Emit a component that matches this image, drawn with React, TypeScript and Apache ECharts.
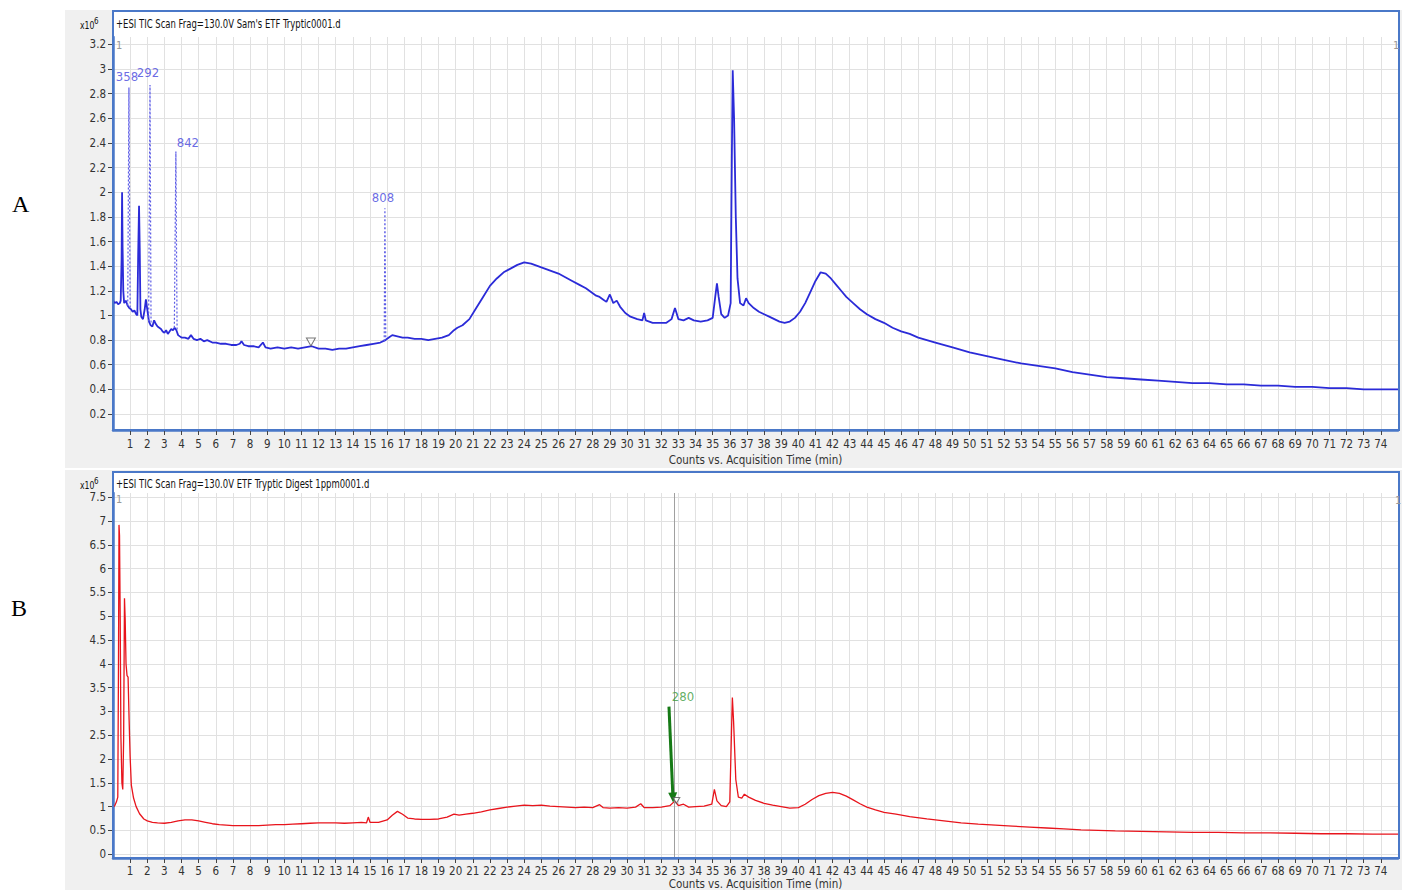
import React, { useEffect, useRef } from "react";
import * as echarts from "echarts";

const FONT = "'Liberation Sans Narrow', 'Arial Narrow', 'DejaVu Sans Condensed', 'Liberation Sans', sans-serif";
const SERIF = "'Liberation Serif', 'Times New Roman', serif";

// ---------- Panel A ----------
const titleA = "+ESI TIC Scan Frag=130.0V Sam's ETF Tryptic0001.d";
const yTicksA = [0.2, 0.4, 0.6, 0.8, 1, 1.2, 1.4, 1.6, 1.8, 2, 2.2, 2.4, 2.6, 2.8, 3, 3.2];
const ticA: [number, number][] = [
  [0.0, 1.12], [0.1, 1.1], [0.2, 1.11], [0.3, 1.09], [0.4, 1.1], [0.45, 1.12], [0.5, 1.45], [0.53, 2.0],
  [0.56, 1.55], [0.6, 1.2], [0.65, 1.1], [0.75, 1.12], [0.85, 1.08], [0.95, 1.06], [1.05, 1.05],
  [1.15, 1.03], [1.25, 1.04], [1.35, 1.01], [1.42, 1.0], [1.47, 1.5], [1.52, 1.89], [1.56, 1.55],
  [1.6, 1.05], [1.65, 0.99], [1.75, 0.97], [1.85, 1.05], [1.92, 1.13], [2.0, 1.05], [2.1, 0.95],
  [2.2, 0.92], [2.3, 0.91], [2.4, 0.96], [2.5, 0.93], [2.6, 0.91], [2.7, 0.9], [2.8, 0.89], [2.9, 0.87],
  [3.0, 0.86], [3.1, 0.88], [3.2, 0.85], [3.3, 0.87], [3.4, 0.89], [3.5, 0.88], [3.6, 0.9], [3.7, 0.88],
  [3.8, 0.84], [3.9, 0.83], [4.0, 0.82], [4.2, 0.82], [4.4, 0.81], [4.55, 0.84], [4.7, 0.81], [4.9, 0.8],
  [5.1, 0.81], [5.3, 0.79], [5.5, 0.8], [5.8, 0.78], [6.0, 0.78], [6.3, 0.77], [6.6, 0.77], [6.9, 0.76],
  [7.2, 0.76], [7.4, 0.77], [7.5, 0.79], [7.65, 0.76], [7.9, 0.75], [8.2, 0.75], [8.5, 0.74], [8.75, 0.78],
  [8.9, 0.74], [9.2, 0.73], [9.6, 0.74], [10.0, 0.73], [10.4, 0.74], [10.8, 0.73], [11.2, 0.74],
  [11.6, 0.75], [12.0, 0.73], [12.4, 0.73], [12.8, 0.72], [13.2, 0.73], [13.6, 0.73], [14.0, 0.74],
  [14.4, 0.75], [14.8, 0.76], [15.2, 0.77], [15.6, 0.78], [15.9, 0.8], [16.1, 0.82], [16.3, 0.84],
  [16.6, 0.83], [16.9, 0.82], [17.2, 0.82], [17.6, 0.81], [18.0, 0.81], [18.4, 0.8], [18.8, 0.81],
  [19.2, 0.82], [19.6, 0.84], [19.9, 0.88], [20.1, 0.9], [20.4, 0.92], [20.8, 0.97], [21.2, 1.06],
  [21.6, 1.15], [22.0, 1.24], [22.4, 1.3], [22.8, 1.35], [23.2, 1.38], [23.6, 1.41], [24.0, 1.43],
  [24.4, 1.42], [24.8, 1.4], [25.2, 1.38], [25.6, 1.36], [26.0, 1.34], [26.4, 1.31], [26.8, 1.28],
  [27.2, 1.25], [27.6, 1.22], [28.0, 1.18], [28.2, 1.16], [28.4, 1.15], [28.6, 1.13], [28.8, 1.11],
  [29.0, 1.17], [29.2, 1.1], [29.4, 1.12], [29.6, 1.07], [29.9, 1.02], [30.2, 0.99], [30.6, 0.97],
  [30.9, 0.96], [31.0, 1.02], [31.1, 0.96], [31.5, 0.94], [31.9, 0.94], [32.3, 0.94], [32.6, 0.97],
  [32.8, 1.06], [33.0, 0.97], [33.3, 0.96], [33.6, 0.98], [33.9, 0.96], [34.3, 0.95], [34.7, 0.96],
  [35.0, 0.98], [35.15, 1.15], [35.25, 1.26], [35.35, 1.15], [35.5, 1.01], [35.7, 0.98], [35.9, 1.0],
  [36.05, 1.1], [36.12, 2.3], [36.17, 2.99], [36.25, 2.6], [36.35, 1.8], [36.45, 1.3], [36.6, 1.1],
  [36.8, 1.08], [36.95, 1.14], [37.1, 1.1], [37.4, 1.06], [37.7, 1.03], [38.0, 1.01], [38.3, 0.99],
  [38.6, 0.97], [38.9, 0.95], [39.2, 0.94], [39.5, 0.95], [39.8, 0.98], [40.1, 1.03], [40.4, 1.1],
  [40.7, 1.19], [41.0, 1.28], [41.3, 1.35], [41.6, 1.34], [41.9, 1.3], [42.2, 1.25], [42.5, 1.2],
  [42.8, 1.15], [43.2, 1.1], [43.6, 1.05], [44.0, 1.01], [44.5, 0.97], [45.0, 0.94], [45.5, 0.9],
  [46.0, 0.87], [46.5, 0.85], [47.0, 0.82], [47.5, 0.8], [48.0, 0.78], [49.0, 0.74], [50.0, 0.7],
  [51.0, 0.67], [52.0, 0.64], [53.0, 0.61], [54.0, 0.59], [55.0, 0.57], [56.0, 0.54], [57.0, 0.52],
  [58.0, 0.5], [59.0, 0.49], [60.0, 0.48], [61.0, 0.47], [62.0, 0.46], [63.0, 0.45], [64.0, 0.45],
  [65.0, 0.44], [66.0, 0.44], [67.0, 0.43], [68.0, 0.43], [69.0, 0.42], [70.0, 0.42], [71.0, 0.41],
  [72.0, 0.41], [73.0, 0.4], [74.0, 0.4], [75.0, 0.4],
];
const peakNamesA = ["358", "292", "842", "808"];
const peakPointsA: [number, number][][] = [
  [[0.86, 1.08], [0.93, 2.85], [1.0, 1.06]],
  [[2.08, 0.95], [2.16, 2.87], [2.22, 0.93]],
  [[3.58, 0.9], [3.67, 2.33], [3.74, 0.88]],
  [[15.83, 0.79], [15.87, 1.87], [15.92, 0.8]],
];
const markerA: [number, number] = [11.55, 0.785];

// ---------- Panel B ----------
const titleB = "+ESI TIC Scan Frag=130.0V ETF Tryptic Digest 1ppm0001.d";
const yTicksB = [0, 0.5, 1, 1.5, 2, 2.5, 3, 3.5, 4, 4.5, 5, 5.5, 6, 6.5, 7, 7.5];
const ticB: [number, number][] = [
  [0.0, 0.98], [0.1, 1.02], [0.2, 1.1], [0.28, 1.2], [0.32, 4.0], [0.35, 6.92], [0.38, 6.7], [0.42, 5.0],
  [0.46, 2.5], [0.52, 1.5], [0.57, 1.36], [0.62, 2.4], [0.67, 5.38], [0.71, 4.95], [0.76, 4.0],
  [0.82, 3.75], [0.88, 3.72], [0.94, 2.83], [1.0, 2.05], [1.07, 1.45], [1.2, 1.18], [1.35, 1.0],
  [1.55, 0.85], [1.8, 0.74], [2.0, 0.7], [2.3, 0.67], [2.6, 0.66], [3.0, 0.65], [3.4, 0.67], [3.8, 0.7],
  [4.2, 0.72], [4.6, 0.72], [5.0, 0.7], [5.4, 0.67], [5.8, 0.64], [6.2, 0.62], [6.6, 0.61], [7.0, 0.6],
  [7.5, 0.6], [8.0, 0.6], [8.5, 0.6], [9.0, 0.61], [9.5, 0.62], [10.0, 0.62], [10.5, 0.63], [11.0, 0.64],
  [11.5, 0.65], [12.0, 0.66], [12.5, 0.66], [13.0, 0.66], [13.5, 0.65], [14.0, 0.66], [14.5, 0.67],
  [14.8, 0.66], [14.9, 0.78], [15.0, 0.67], [15.5, 0.67], [16.0, 0.72], [16.3, 0.82], [16.6, 0.9],
  [16.9, 0.84], [17.2, 0.76], [17.6, 0.74], [18.0, 0.73], [18.5, 0.73], [19.0, 0.74], [19.5, 0.78],
  [19.9, 0.84], [20.2, 0.82], [20.6, 0.84], [21.0, 0.86], [21.5, 0.89], [22.0, 0.93], [22.5, 0.96],
  [23.0, 0.99], [23.5, 1.01], [24.0, 1.03], [24.5, 1.02], [25.0, 1.03], [25.5, 1.01], [26.0, 1.0],
  [26.5, 0.99], [27.0, 0.98], [27.5, 0.99], [28.0, 0.98], [28.4, 1.04], [28.6, 0.98], [29.0, 0.97],
  [29.5, 0.98], [30.0, 0.97], [30.5, 0.99], [30.8, 1.06], [31.0, 0.98], [31.5, 0.98], [32.0, 0.99],
  [32.5, 1.02], [32.8, 1.12], [33.0, 1.02], [33.3, 1.05], [33.6, 0.99], [34.0, 1.0], [34.5, 1.01],
  [34.95, 1.05], [35.1, 1.36], [35.25, 1.12], [35.5, 1.02], [35.8, 1.0], [36.0, 1.1], [36.1, 2.6],
  [36.15, 3.29], [36.22, 2.8], [36.35, 1.57], [36.5, 1.2], [36.7, 1.18], [36.85, 1.26], [37.1, 1.2],
  [37.5, 1.13], [38.0, 1.07], [38.5, 1.03], [39.0, 1.0], [39.5, 0.97], [40.0, 0.98], [40.4, 1.05],
  [40.8, 1.15], [41.2, 1.23], [41.6, 1.28], [42.0, 1.3], [42.4, 1.28], [42.8, 1.22], [43.2, 1.14],
  [43.6, 1.06], [44.0, 0.99], [44.5, 0.93], [45.0, 0.88], [45.7, 0.84], [46.5, 0.79], [47.5, 0.74],
  [48.5, 0.7], [49.5, 0.66], [50.5, 0.63], [51.5, 0.61], [52.5, 0.59], [53.5, 0.57], [54.5, 0.55],
  [55.5, 0.53], [56.5, 0.51], [57.5, 0.5], [58.5, 0.49], [60.0, 0.48], [61.5, 0.47], [63.0, 0.46],
  [64.5, 0.46], [66.0, 0.45], [67.5, 0.45], [69.0, 0.44], [70.5, 0.43], [72.0, 0.43], [73.5, 0.42],
  [75.0, 0.42],
];
const cursorB = 32.78;
const arrowLabelB = "280";
const arrowFromB: [number, number] = [32.45, 3.1];
const arrowToB: [number, number] = [32.68, 1.19];
const markerB: [number, number] = [32.88, 1.13];

const xAxisName = "Counts vs. Acquisition Time (min)";

// ---------- styles ----------
const BLUE = "#2b2bd8";
const RED = "#e8141c";
const FRAME = "#4a78c8";
const GRIDC = "#e1e1e1";
const TXT = "#333";
const peakLabelOffset: Record<string, number[]> = {
  "358": [-2, 0],
  "292": [-2, -2],
  "842": [12, 2],
  "808": [-2, 0],
};

function makeXAxis(gridIndex: number, margin: number, nameGap: number) {
  return {
    type: "value",
    gridIndex,
    min: 0,
    max: 75,
    interval: 1,
    name: xAxisName,
    nameLocation: "middle",
    nameGap,
    nameTextStyle: { color: TXT, fontFamily: FONT, fontSize: 11.5 },
    axisLine: { show: true, onZero: false, lineStyle: { color: FRAME, width: 2.5 } },
    axisTick: { show: true, length: 5, lineStyle: { color: "#444", width: 1 } },
    axisLabel: {
      color: TXT, fontFamily: FONT, fontSize: 11.5, margin,
      showMinLabel: false, showMaxLabel: false,
    },
    splitLine: { show: true, lineStyle: { color: GRIDC, width: 1 } },
  };
}

function makeYAxis(gridIndex: number, min: number, max: number, ticks: number[]) {
  return {
    type: "value",
    gridIndex,
    min,
    max,
    axisLine: { show: true, onZero: false, lineStyle: { color: FRAME, width: 2.5 } },
    axisTick: { show: true, length: 5, customValues: ticks, lineStyle: { color: "#444", width: 1 } },
    axisLabel: { color: TXT, fontFamily: FONT, fontSize: 11.5, margin: 7, customValues: ticks },
    splitLine: { show: true, lineStyle: { color: GRIDC, width: 1 } },
  };
}

function txt(x: number, y: number, text: string, extra: any = {}) {
  return {
    type: "text",
    x,
    y,
    z: 20,
    scaleX: extra.scaleX || 1,
    style: {
      text,
      x: 0,
      y: 0,
      fill: extra.fill || "#111",
      fontFamily: extra.fontFamily || FONT,
      fontSize: extra.fontSize || 12,
      textAlign: extra.align || "left",
      align: extra.align || "left",
      textVerticalAlign: "middle",
      verticalAlign: "middle",
    },
  };
}

export default function App() {
  const ref = useRef<HTMLDivElement>(null);
  useEffect(() => {
    document.body.style.margin = "0";
    if (!ref.current) return;
    const chart = echarts.init(ref.current, undefined, { renderer: "svg" });
    const option: any = {
      animation: false,
      backgroundColor: "#fff",
      grid: [
        { left: 113, right: 4, top: 37, height: 393, outerBoundsMode: "none", containLabel: false },
        { left: 113, right: 4, top: 493, height: 365, outerBoundsMode: "none", containLabel: false },
      ],
      xAxis: [makeXAxis(0, 8, 24), makeXAxis(1, 7, 20)],
      yAxis: [makeYAxis(0, 0.07, 3.26, yTicksA), makeYAxis(1, -0.08, 7.59, yTicksB)],
      graphic: [
        { type: "rect", z: -10, shape: { x: 65, y: 10, width: 1337, height: 458 }, style: { fill: "#f0f0f0" } },
        { type: "rect", z: -9, shape: { x: 113, y: 11, width: 1286, height: 419 }, style: { fill: "#fff" } },
        { type: "rect", z: 15, shape: { x: 113, y: 11, width: 1286, height: 419 }, style: { fill: "none", stroke: FRAME, lineWidth: 2 } },
        { type: "rect", z: -10, shape: { x: 65, y: 470, width: 1337, height: 420 }, style: { fill: "#f0f0f0" } },
        { type: "rect", z: -9, shape: { x: 113, y: 472, width: 1286, height: 386 }, style: { fill: "#fff" } },
        { type: "rect", z: 15, shape: { x: 113, y: 472, width: 1286, height: 386 }, style: { fill: "none", stroke: FRAME, lineWidth: 2 } },
        txt(116, 24, titleA, { fontSize: 11.5, scaleX: 0.82 }),
        txt(116, 484, titleB, { fontSize: 11.5, scaleX: 0.82 }),
        txt(80, 25, "x10", { fontSize: 11, scaleX: 0.78 }),
        txt(94, 21, "6", { fontSize: 8 }),
        txt(80, 485, "x10", { fontSize: 11, scaleX: 0.78 }),
        txt(94, 481, "6", { fontSize: 8 }),
        txt(116, 45, "1", { fill: "#999", fontSize: 11 }),
        txt(1393, 45, "1", { fill: "#999", fontSize: 11 }),
        txt(116, 499, "1", { fill: "#999", fontSize: 11 }),
        txt(1395, 500, "1", { fill: "#999", fontSize: 11 }),
        txt(12, 204, "A", { fontFamily: SERIF, fontSize: 24, fill: "#000" }),
        txt(11, 608, "B", { fontFamily: SERIF, fontSize: 24, fill: "#000" }),
      ],
      series: [
        {
          type: "line", xAxisIndex: 0, yAxisIndex: 0, data: ticA, showSymbol: false, symbol: "none",
          lineStyle: { color: BLUE, width: 1.8 }, z: 3, silent: true,
        },
        ...peakPointsA.map((pts) => ({
          type: "line", xAxisIndex: 0, yAxisIndex: 0, data: pts, showSymbol: false, symbol: "none",
          lineStyle: { color: "#5a5ae6", width: 1.2, type: [2, 2] }, z: 3, silent: true,
        })),
        {
          type: "scatter", xAxisIndex: 0, yAxisIndex: 0, symbolSize: 1, silent: true,
          itemStyle: { color: "rgba(0,0,0,0)" }, z: 4,
          data: peakPointsA.map((pts, i) => ({
            value: pts[1],
            label: {
              show: true, formatter: peakNamesA[i], position: "top", distance: 4,
              offset: peakLabelOffset[peakNamesA[i]], color: "#4444dd", fontFamily: FONT, fontSize: 13,
            },
          })),
        },
        {
          type: "scatter", xAxisIndex: 0, yAxisIndex: 0, symbol: "triangle", symbolRotate: 180,
          symbolSize: [9, 8], silent: true, z: 5,
          itemStyle: { color: "rgba(255,255,255,0.6)", borderColor: "#555", borderWidth: 1 },
          data: [markerA],
        },
        {
          type: "line", xAxisIndex: 1, yAxisIndex: 1, data: ticB, showSymbol: false, symbol: "none",
          lineStyle: { color: RED, width: 1.3 }, z: 3, silent: true,
          markLine: {
            silent: true, symbol: "none", label: { show: false }, animation: false,
            lineStyle: { color: "#a0a0a0", width: 1, type: "solid" },
            data: [{ xAxis: cursorB }],
          },
        },
        {
          type: "scatter", xAxisIndex: 1, yAxisIndex: 1, symbolSize: 1, silent: true, z: 6,
          itemStyle: { color: "rgba(0,0,0,0)" },
          data: [{
            value: arrowFromB,
            label: {
              show: true, formatter: arrowLabelB, position: "top", distance: 3, offset: [14, 0],
              color: "#3a9a3a", fontFamily: FONT, fontSize: 13,
            },
          }],
          markLine: {
            silent: true, symbol: ["none", "triangle"], symbolSize: [9, 10], animation: false,
            label: { show: false },
            lineStyle: { color: "#167a16", width: 3, type: "solid" },
            data: [[{ coord: arrowFromB }, { coord: arrowToB }]],
          },
        },
        {
          type: "scatter", xAxisIndex: 1, yAxisIndex: 1, symbol: "triangle", symbolRotate: 180,
          symbolSize: [7, 6], silent: true, z: 5,
          itemStyle: { color: "rgba(255,255,255,0.6)", borderColor: "#555", borderWidth: 1 },
          data: [markerB],
        },
      ],
    };
    chart.setOption(option);
    return () => chart.dispose();
  }, []);
  return <div ref={ref} style={{ width: 1402, height: 890 }} />;
}
